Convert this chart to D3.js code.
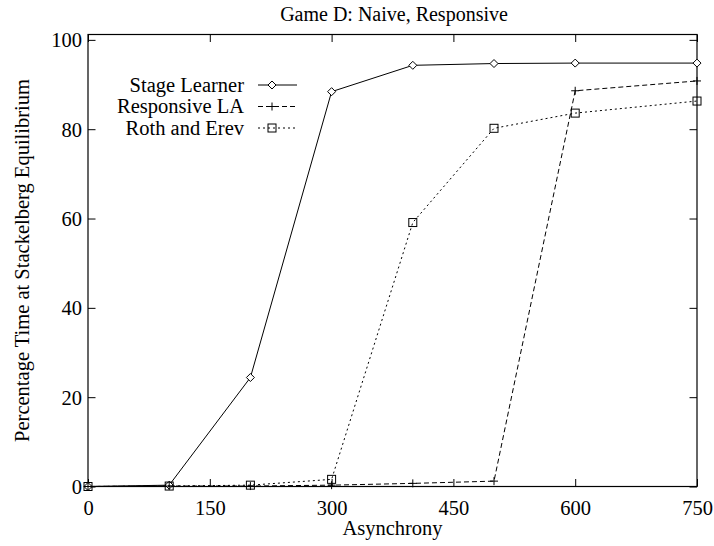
<!DOCTYPE html>
<html>
<head>
<meta charset="utf-8">
<script src="https://cdn.jsdelivr.net/npm/d3@7"></script>
<style>
  html, body { margin: 0; padding: 0; background: #fff; }
  svg { display: block; }
</style>
</head>
<body>
<svg id="chart" width="714" height="546"></svg>
<script>
// Asynchrony values at which each learner was measured
const asynchrony = [0, 100, 200, 300, 400, 500, 600, 750];

// Percentage of time spent at the Stackelberg equilibrium
const stageLearner   = [0, 0.3, 24.4, 88.4, 94.3, 94.7, 94.8, 94.8];
const responsiveLA   = [0, 0.1, 0.1, 0.3, 0.7, 1.2, 88.6, 90.8];
const rothErev       = [0, 0.1, 0.3, 1.6, 59.1, 80.2, 83.6, 86.3];

const seriesNames = ["Stage Learner", "Responsive LA", "Roth and Erev"];

const xTicks = [0, 150, 300, 450, 600, 750];
const yTicks = [0, 20, 40, 60, 80, 100];

const serif = "'Liberation Serif', 'Tinos', 'Nimbus Roman', 'FreeSerif', 'Noto Serif', 'DejaVu Serif', 'Times New Roman', Times, serif";

const svg = d3.select("#chart").style("font-family", serif);
const plotLeft = 88, plotRight = 697, plotTop = 34.5, plotBottom = 486.5;

const x = d3.scaleLinear().domain([0, 750]).range([plotLeft, plotRight]);
const y = d3.scaleLinear().domain([0, 101.2]).range([plotBottom, plotTop]);

const fontSize = 20.5;
const tickLen = 7.5;

// Plot frame
svg.append("rect")
  .attr("x", plotLeft).attr("y", plotTop)
  .attr("width", plotRight - plotLeft).attr("height", plotBottom - plotTop)
  .attr("fill", "none").attr("stroke", "#000").attr("stroke-width", 1.2);

// Bottom axis with ticks pointing inward, mirrored on top
const xAxis = svg.append("g").attr("transform", `translate(0,${plotBottom})`)
  .call(d3.axisBottom(x).tickValues(xTicks).tickSizeInner(-tickLen).tickSizeOuter(0).tickPadding(14));
const xAxisTop = svg.append("g").attr("transform", `translate(0,${plotTop})`)
  .call(d3.axisTop(x).tickValues(xTicks).tickSizeInner(-tickLen).tickSizeOuter(0).tickFormat(""));

// Left axis with inward ticks, mirrored on right
const yAxis = svg.append("g").attr("transform", `translate(${plotLeft},0)`)
  .call(d3.axisLeft(y).tickValues(yTicks).tickSizeInner(-tickLen).tickSizeOuter(0).tickPadding(6));
const yAxisRight = svg.append("g").attr("transform", `translate(${plotRight},0)`)
  .call(d3.axisRight(y).tickValues(yTicks).tickSizeInner(-tickLen).tickSizeOuter(0).tickFormat(""));

[xAxis, xAxisTop, yAxis, yAxisRight].forEach(g => {
  g.attr("font-family", null).attr("font-size", fontSize);
  g.select(".domain").remove();
  g.selectAll(".tick line").attr("stroke", "#000").attr("stroke-width", 1);
  g.selectAll(".tick text").attr("fill", "#000");
});
xAxis.selectAll(".tick text").attr("dy", "0.71em");
yAxis.selectAll(".tick text").attr("dy", "0.34em");

// Title and axis labels
svg.append("text")
  .attr("x", 394).attr("y", 21)
  .attr("text-anchor", "middle")
  .attr("font-size", 20)
  .text("Game D: Naive, Responsive");

svg.append("text")
  .attr("x", (plotLeft + plotRight) / 2).attr("y", 535)
  .attr("text-anchor", "middle")
  .attr("font-size", fontSize)
  .text("Asynchrony");

svg.append("text")
  .attr("transform", `translate(29,${(plotTop + plotBottom) / 2}) rotate(-90)`)
  .attr("text-anchor", "middle")
  .attr("font-size", fontSize)
  .text("Percentage Time at Stackelberg Equilibrium");

// Marker shapes
function drawMarker(g, kind, cx, cy) {
  const s = 4;
  if (kind === "diamond") {
    g.append("path")
      .attr("d", `M${cx},${cy - s}L${cx + s},${cy}L${cx},${cy + s}L${cx - s},${cy}Z`)
      .attr("fill", "#fff").attr("stroke", "#000").attr("stroke-width", 1);
  } else if (kind === "plus") {
    g.append("path")
      .attr("d", `M${cx - s},${cy}H${cx + s}M${cx},${cy - s}V${cy + s}`)
      .attr("fill", "none").attr("stroke", "#000").attr("stroke-width", 1);
  } else {
    g.append("rect")
      .attr("x", cx - s).attr("y", cy - s).attr("width", 2 * s).attr("height", 2 * s)
      .attr("fill", "none").attr("stroke", "#000").attr("stroke-width", 1);
  }
}

const series = [
  { name: seriesNames[0], values: stageLearner, dash: null, marker: "diamond" },
  { name: seriesNames[1], values: responsiveLA, dash: "5,3", marker: "plus" },
  { name: seriesNames[2], values: rothErev, dash: "2,3", marker: "square" }
];

const line = d3.line().x(d => x(d[0])).y(d => y(d[1]));

const plot = svg.append("g");
series.forEach(s => {
  const pts = asynchrony.map((a, i) => [a, s.values[i]]);
  plot.append("path")
    .attr("d", line(pts))
    .attr("fill", "none").attr("stroke", "#000").attr("stroke-width", 1)
    .attr("stroke-dasharray", s.dash);
  pts.forEach(p => drawMarker(plot, s.marker, x(p[0]), y(p[1])));
});

// Legend
const legend = svg.append("g");
series.forEach((s, i) => {
  const ly = 85 + i * 21.5;
  legend.append("text")
    .attr("x", 244).attr("y", ly).attr("dy", "0.34em")
    .attr("text-anchor", "end")
    .attr("font-size", fontSize)
    .text(s.name);
  legend.append("line")
    .attr("x1", 258).attr("x2", 297).attr("y1", ly).attr("y2", ly)
    .attr("stroke", "#000").attr("stroke-width", 1)
    .attr("stroke-dasharray", s.dash);
  drawMarker(legend, s.marker, 272, ly);
});
</script>
</body>
</html>
